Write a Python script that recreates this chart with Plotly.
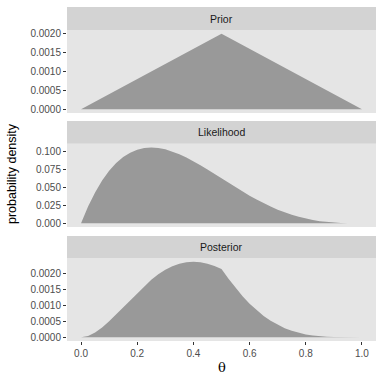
import plotly.graph_objects as go

theta = [i * 0.025 for i in range(41)]
theta = [round(t, 3) for t in theta]

prior = [0.0000, 0.0001, 0.0002, 0.0003, 0.0004, 0.0005, 0.0006, 0.0007, 0.0008, 0.0009,
         0.0010, 0.0011, 0.0012, 0.0013, 0.0014, 0.0015, 0.0016, 0.0017, 0.0018, 0.0019,
         0.0020,
         0.0019, 0.0018, 0.0017, 0.0016, 0.0015, 0.0014, 0.0013, 0.0012, 0.0011, 0.0010,
         0.0009, 0.0008, 0.0007, 0.0006, 0.0005, 0.0004, 0.0003, 0.0002, 0.0001, 0.0000]

likelihood = [0.0, 0.02317, 0.04287, 0.05936, 0.0729, 0.08374, 0.09212, 0.09827, 0.1024, 0.10473,
              0.10547, 0.1048, 0.1029, 0.09995, 0.09612, 0.09155, 0.0864, 0.0808, 0.07487, 0.06873,
              0.0625, 0.05627, 0.05012, 0.04414, 0.0384, 0.03296, 0.02787, 0.02317, 0.0189, 0.01508,
              0.01172, 0.00883, 0.0064, 0.00442, 0.00287, 0.00171, 0.0009, 0.00039, 0.00012, 0.000015,
              0.0]

posterior = [0.0, 0.0000397, 0.000147, 0.000305, 0.0005, 0.000718, 0.000948, 0.001179, 0.001404, 0.001616,
             0.001808, 0.001976, 0.002117, 0.002228, 0.002307, 0.002354, 0.00237, 0.002355, 0.00231, 0.002239,
             0.002143, 0.001833, 0.001547, 0.001286, 0.001053, 0.000848, 0.000669, 0.000516, 0.000389, 0.000284,
             0.000201, 0.000136, 0.0000878, 0.0000531, 0.0000295, 0.0000146, 0.0000062, 0.000002, 0.0000004, 0.0,
             0.0]

panels = ["Prior", "Likelihood", "Posterior"]
series = [prior, likelihood, posterior]
yticks = [
    [0.0, 0.0005, 0.0010, 0.0015, 0.0020],
    [0.0, 0.025, 0.05, 0.075, 0.10],
    [0.0, 0.0005, 0.0010, 0.0015, 0.0020],
]
ytick_text = [
    ["0.0000", "0.0005", "0.0010", "0.0015", "0.0020"],
    ["0.000", "0.025", "0.050", "0.075", "0.100"],
    ["0.0000", "0.0005", "0.0010", "0.0015", "0.0020"],
]
xticks = [0.0, 0.2, 0.4, 0.6, 0.8, 1.0]
xtick_text = ["0.0", "0.2", "0.4", "0.6", "0.8", "1.0"]

W = H = 384
ml, mr, mt, mb = 67, 8, 7, 43
ph = H - mt - mb
pw = W - ml - mr


def py(p):
    return (H - mb - p) / ph


plot_px = [(30, 113), (143.7, 227), (258, 341)]
strip_px = [(7, 30), (121, 143.7), (236, 258)]

fig = go.Figure()
FONT = "Liberation Sans, Arial, sans-serif"
ax_font = dict(family=FONT, size=10, color="#4D4D4D")

for i, (name, vals) in enumerate(zip(panels, series)):
    k = "" if i == 0 else str(i + 1)
    fig.add_trace(go.Scatter(x=theta, y=vals, mode="lines", fill="tozeroy",
                             fillcolor="#999999", line=dict(width=0, color="#999999"),
                             xaxis="x" + k, yaxis="y" + k, showlegend=False,
                             hoverinfo="skip"))
    top, bot = plot_px[i]
    vmax = max(vals)
    pad = 0.05 * vmax
    fig.layout["yaxis" + k] = dict(
        domain=[py(bot), py(top)], anchor="x" + k, automargin=False,
        range=[-pad, vmax + pad], tickvals=yticks[i], ticktext=ytick_text[i],
        ticks="outside", ticklen=3, tickwidth=1, tickcolor="#333333",
        showgrid=False, zeroline=False, showline=False, tickfont=ax_font,
        fixedrange=True,
    )
    last = i == 2
    fig.layout["xaxis" + k] = dict(
        domain=[0, 1], anchor="y" + k, range=[-0.05, 1.05], automargin=False,
        tickvals=xticks, ticktext=xtick_text,
        showticklabels=last, ticks="outside" if last else "",
        ticklen=3, tickwidth=1, tickcolor="#333333",
        showgrid=False, zeroline=False, showline=False, tickfont=ax_font,
        fixedrange=True,
    )
    fig.add_shape(type="rect", xref="paper", yref="paper", x0=0, x1=1,
                  y0=py(bot), y1=py(top), fillcolor="#E5E5E5", line=dict(width=0),
                  layer="below")
    st, sb = strip_px[i]
    fig.add_shape(type="rect", xref="paper", yref="paper", x0=0, x1=1,
                  y0=py(sb), y1=py(st), fillcolor="#D3D3D3", line=dict(width=0),
                  layer="below")
    fig.add_annotation(text=name, xref="paper", yref="paper", x=0.5,
                       y=(py(sb) + py(st)) / 2, showarrow=False,
                       font=dict(family=FONT, size=10.5, color="#1A1A1A"),
                       xanchor="center", yanchor="middle")

fig.add_annotation(text="probability density", xref="paper", yref="paper",
                   x=(12 - ml) / pw, y=py(174), xanchor="center", yanchor="middle",
                   textangle=-90, showarrow=False,
                   font=dict(family=FONT, size=12.5, color="black"))
fig.add_annotation(text="θ", xref="paper", yref="paper",
                   x=(81 + 0.5 * 281.3 - ml) / pw, y=py(367), xanchor="center",
                   yanchor="middle", showarrow=False,
                   font=dict(family="DejaVu Serif, serif", size=13, color="black"))

fig.update_layout(width=W, height=H, margin=dict(l=ml, r=mr, t=mt, b=mb, autoexpand=False),
                  paper_bgcolor="white", plot_bgcolor="rgba(0,0,0,0)",
                  template="none", hovermode=False)

fig.write_html("out.html", config={"displayModeBar": False, "staticPlot": True},
               post_script="document.body.style.margin='0';document.body.style.overflow='hidden';")
